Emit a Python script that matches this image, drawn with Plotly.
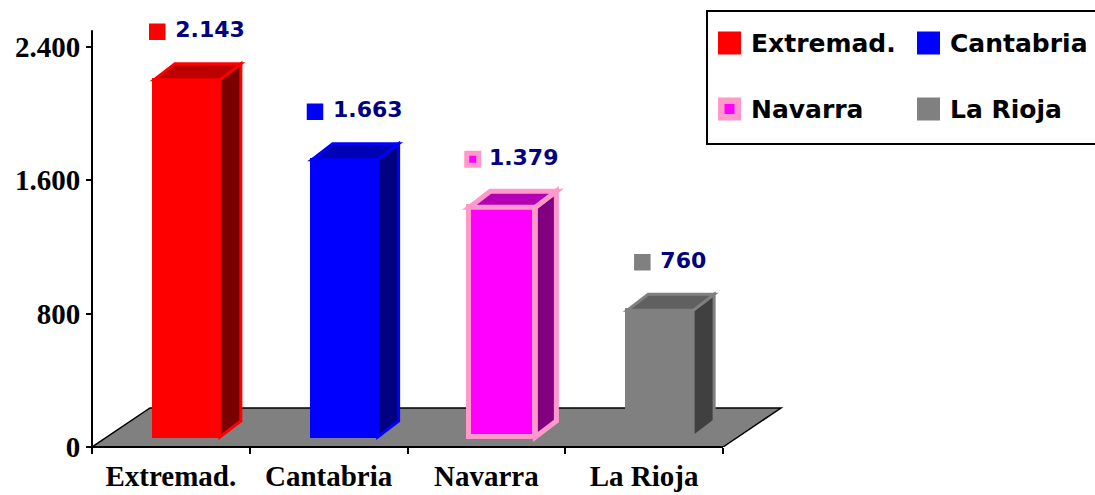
import plotly.graph_objects as go

# ---------------- data ----------------
categories = ["Extremad.", "Cantabria", "Navarra", "La Rioja"]
values = [2143, 1663, 1379, 760]
front_colors = ["#FF0000", "#0000FF", "#FF00FF", "#808080"]
side_colors = ["#7A0000", "#000080", "#800080", "#404040"]
top_colors = ["#BC0000", "#0000B4", "#B400B4", "#606060"]
edge_colors = ["#FF0000", "#0000FF", "#FF99CC", "#808080"]
y_tick_values = [0, 800, 1600, 2400]
y_axis_top = 2500

def fmt(v):
    return f"{v:,}".replace(",", ".")

y_tick_labels = [fmt(v) for v in y_tick_values]

# ---------------- geometry helpers ----------------
W, H = 1095, 495
M_B = 48
PLOT_H = H - M_B
X0_PX = 92          # pixel of the category axis start
CAT_PX = 157.75     # pixels per category
UY = 6.0            # value units per pixel

def ux(px):
    return px / CAT_PX

def uy(px):
    return px * UY

def paper_x(px):
    return px / W

def paper_y(py):
    return (PLOT_H - py) / PLOT_H

n = len(categories)
x_range = [-0.5 - ux(X0_PX), -0.5 + ux(W - X0_PX)]
y_range = [0, uy(PLOT_H)]

floor_dx, floor_dy = ux(58), uy(39)
bar_w = ux(66)
shift_x, shift_y = ux(16), uy(10)
depth_dx, depth_dy = ux(21), uy(16)

fig = go.Figure()

# front faces of the bars
bar_x = [i + shift_x for i in range(n)]
fig.add_trace(go.Bar(
    x=bar_x, y=values, base=shift_y, width=bar_w,
    marker=dict(color=front_colors, line=dict(color=edge_colors, width=[3, 3, 5, 3])),
    showlegend=False, hoverinfo="skip",
))

shapes = []
# floor
fx0, fx1 = -0.5, -0.5 + n
shapes.append(dict(
    type="path", xref="x", yref="y", layer="below",
    path=f"M {fx0},0 L {fx1},0 L {fx1 + floor_dx},{floor_dy} L {fx0 + floor_dx},{floor_dy} Z",
    fillcolor="#808080", line=dict(color="black", width=1.5),
))

# side and top faces
for i, v in enumerate(values):
    xl = bar_x[i] - bar_w / 2
    xr = bar_x[i] + bar_w / 2
    yb = shift_y
    yt = shift_y + v
    lw = 5 if edge_colors[i] == "#FF99CC" else 3
    shapes.append(dict(
        type="path", xref="x", yref="y",
        path=(f"M {xr},{yb} L {xr + depth_dx},{yb + depth_dy} "
              f"L {xr + depth_dx},{yt + depth_dy} L {xr},{yt} Z"),
        fillcolor=side_colors[i], line=dict(color=edge_colors[i], width=lw),
    ))
    shapes.append(dict(
        type="path", xref="x", yref="y",
        path=(f"M {xl},{yt} L {xl + depth_dx},{yt + depth_dy} "
              f"L {xr + depth_dx},{yt + depth_dy} L {xr},{yt} Z"),
        fillcolor=top_colors[i], line=dict(color=edge_colors[i], width=lw),
    ))

# axis lines
shapes.append(dict(type="line", xref="x", yref="paper", x0=fx0, x1=fx1, y0=0, y1=0,
                   line=dict(color="black", width=2)))
shapes.append(dict(type="line", xref="x", yref="y", x0=fx0, x1=fx0, y0=0, y1=y_axis_top,
                   line=dict(color="black", width=2)))

# value labels (square + number)
label_x, label_y, label_txt = [], [], []
for i, v in enumerate(values):
    t = fmt(v)
    tw = 22 * (0.348 + 0.696 * sum(c.isdigit() for c in t) + 0.38 * t.count("."))
    gw = 16 + 3 + tw
    cx = bar_x[i] + depth_dx / 2
    label_x.append(cx - ux(gw / 2) + ux(8))
    label_y.append(shift_y + v + uy(48))
    label_txt.append(" " + t)

fig.add_trace(go.Scatter(
    x=label_x, y=label_y, text=label_txt, mode="markers+text",
    textposition="middle right",
    marker=dict(symbol="square", size=[15, 15, 12, 15], color=front_colors, opacity=1,
                line=dict(color=edge_colors, width=[1.5, 1.5, 5, 1.5])),
    textfont=dict(family="DejaVu Sans", size=22, color="#000080", weight="bold"),
    cliponaxis=False, showlegend=False, hoverinfo="skip",
))

# manual legend
shapes.append(dict(type="rect", xref="paper", yref="paper",
                   x0=paper_x(707), x1=paper_x(1097), y0=paper_y(144), y1=paper_y(11),
                   fillcolor="white", line=dict(color="black", width=2)))
annotations = []
col_px = [718, 917]
row_px = [43, 109]
for i, name in enumerate(categories):
    cxp = col_px[i % 2]
    cyp = row_px[i // 2]
    if edge_colors[i] == "#FF99CC":
        inset, lw = 3.25, 6.5
    else:
        inset, lw = 0, 0
    shapes.append(dict(type="rect", xref="paper", yref="paper",
                       x0=paper_x(cxp + inset), x1=paper_x(cxp + 23 - inset),
                       y0=paper_y(cyp + 11.5 - inset), y1=paper_y(cyp - 11.5 + inset),
                       fillcolor=front_colors[i],
                       line=dict(color=edge_colors[i], width=lw)))
    annotations.append(dict(xref="paper", yref="paper", x=paper_x(cxp + 31), y=paper_y(cyp),
                            xanchor="left", yanchor="middle", showarrow=False, text=name,
                            font=dict(family="DejaVu Sans", size=25, color="black", weight="bold")))

tick_font = dict(family="Liberation Serif", size=29, color="black", weight="bold")

fig.update_layout(
    width=W, height=H,
    margin=dict(l=0, r=0, t=0, b=M_B),
    paper_bgcolor="white", plot_bgcolor="white",
    shapes=shapes, annotations=annotations,
    xaxis=dict(range=x_range, tickvals=list(range(n)), ticktext=categories,
               ticks="", showline=False, showgrid=False, zeroline=False,
               tickfont=tick_font, ticklabelstandoff=9,
               minor=dict(tickvals=[i - 0.5 for i in range(n + 1)], ticks="outside",
                          ticklen=6, tickwidth=2, tickcolor="black", showgrid=False)),
    yaxis=dict(range=y_range, anchor="free", position=paper_x(X0_PX),
               tickvals=y_tick_values, ticktext=y_tick_labels,
               ticks="outside", ticklen=6, tickwidth=2, tickcolor="black",
               showline=False, showgrid=False, zeroline=False, tickfont=tick_font),
    bargap=0,
)

fig.write_html(
    "out.html",
    config={"displayModeBar": False},
    post_script="document.body.style.margin='0px';document.body.style.overflow='hidden';",
)
